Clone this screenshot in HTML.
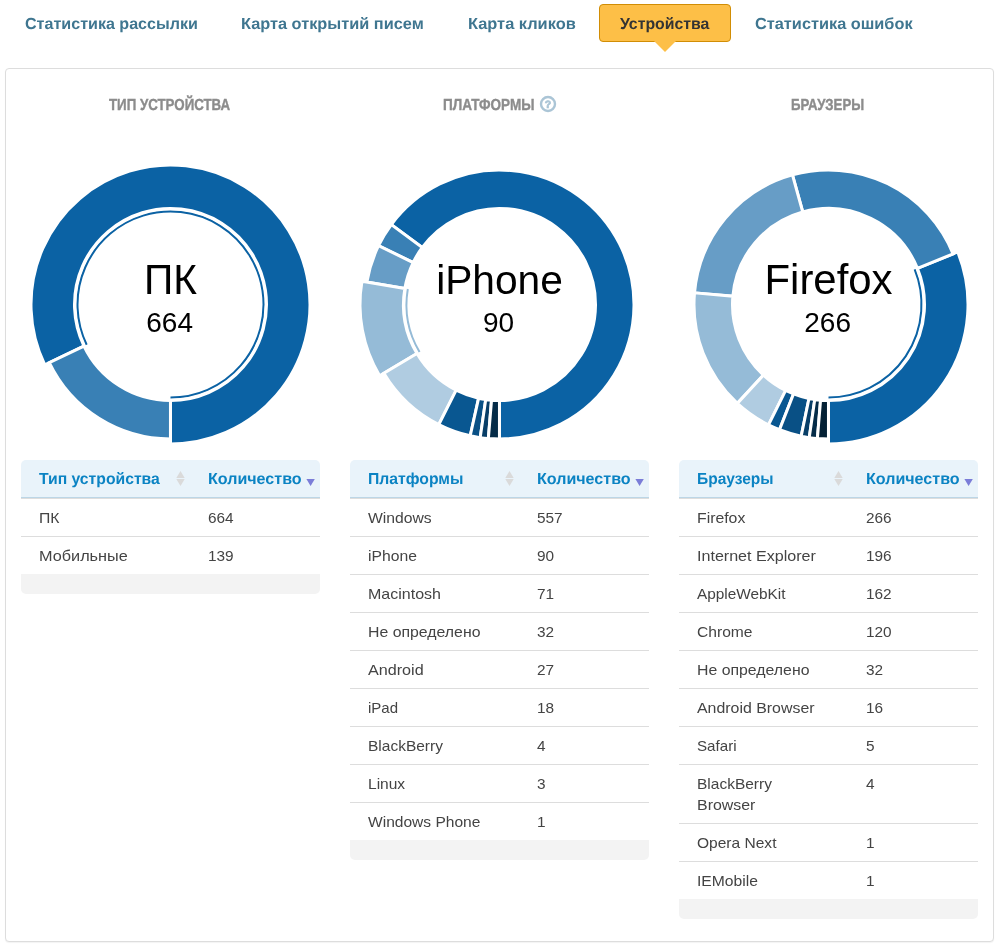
<!DOCTYPE html>
<html lang="ru">
<head>
<meta charset="utf-8">
<title>Устройства</title>
<style>
html,body{margin:0;padding:0;background:#fff;}
body{width:1004px;height:948px;position:relative;overflow:hidden;font-family:"Liberation Sans",sans-serif;color:#444;font-size:15px;line-height:21px;}
ul.tabs{list-style:none;margin:0;padding:0;position:absolute;left:0;top:0;width:1004px;height:60px;}
ul.tabs li{position:absolute;top:4px;height:36px;line-height:36px;padding:0 20px;border:1px solid transparent;border-radius:4px;font-size:16px;font-weight:700;color:#3f7690;text-rendering:geometricPrecision;white-space:nowrap;}
ul.tabs li a{color:inherit;text-decoration:none;position:relative;top:2px;display:inline-block;transform-origin:0 50%;}
ul.tabs li.active{background:#fdbf47;border-color:#d18d05;color:#333;}
ul.tabs li.active:after{content:"";position:absolute;left:50%;top:100%;margin-left:-11px;margin-top:0px;border:11px solid transparent;border-top-color:#fdbf47;border-bottom-width:0;}
.panel{position:absolute;left:5px;top:68px;width:987px;height:872px;border:1px solid #ddd;border-radius:4px;box-shadow:0 1px 1px rgba(0,0,0,.05);background:#fff;}
.col{position:absolute;top:0;width:299px;}
.col1{left:15px}.col2{left:344px}.col3{left:673px}
h3.ttl{position:absolute;left:0;top:25px;width:299px;margin:0;height:24px;line-height:24px;font-size:16px;font-weight:700;color:#8c8c8c;white-space:nowrap;-webkit-text-stroke:0.4px #8c8c8c;text-rendering:geometricPrecision;}
h3.ttl .tt{position:absolute;top:0;display:block;transform-origin:0 50%;}
h3.ttl .help{position:absolute;left:189px;top:1px;}
svg.donut{position:absolute;left:0;top:85px;}
svg.donut text{font-family:"Liberation Sans",sans-serif;fill:#000;}
.tbl{position:absolute;left:0;top:391px;width:299px;}
table.grid{width:299px;border-collapse:separate;border-spacing:0;table-layout:fixed;}
table.grid th{height:37px;padding:0 0 0 18px;background:#e9f3fa;border-bottom:1px solid #bcd6e6;text-align:left;font-size:16px;font-weight:700;color:#0b83c3;text-rendering:geometricPrecision;position:relative;white-space:nowrap;}
table.grid th.c1{width:151px;border-top-left-radius:5px;}
table.grid th.c2{width:112px;border-top-right-radius:5px;}
table.grid td{padding:8px 0 8px 18px;border-top:1px solid #ddd;vertical-align:top;line-height:21px;font-size:15px;color:#444;}

.h,.t,.n{display:inline-block;transform-origin:0 50%;white-space:nowrap;}
.h{position:relative;top:1px;}
.t{transform:scaleX(1.047);}
.n{transform:scaleX(1.025);}
svg.sort{position:absolute;}
svg.sort.both{left:155px;top:11px;fill:#dadada;}
svg.sort.desc{left:116px;top:19px;fill:#7b7dd8;}
.tfoot{width:299px;height:20px;background:#f3f3f3;border-radius:0 0 5px 5px;}

</style>
</head>
<body>
<ul class="tabs">
<li style="left:3.5px"><a style="transform:scaleX(1.005)">Статистика рассылки</a></li>
<li style="left:219.5px"><a style="transform:scaleX(1.02)">Карта открытий писем</a></li>
<li style="left:446.5px"><a style="transform:scaleX(1.024)">Карта кликов</a></li>
<li class="active" style="left:599px"><a style="transform:scaleX(0.99)">Устройства</a></li>
<li style="left:733.5px"><a style="transform:scaleX(1.02)">Статистика ошибок</a></li>
</ul>
<div class="panel">
<div class="col col1">
<h3 class="ttl"><span class="tt" style="left:87.8px;transform:scaleX(0.831)">ТИП УСТРОЙСТВА</span></h3>
<svg class="donut" width="299" height="300" viewBox="0 0 299 300">
<path d="M149.5,243.5A93,93,0,1,0,65.67,190.76" fill="none" stroke="#0B62A4" stroke-width="2"/>
<path d="M149.5,246.5A96,96,0,1,0,62.96,192.06L23.75,210.9A139.5,139.5,0,1,1,149.5,290Z" fill="#0B62A4" stroke="#fff" stroke-width="3"/>
<path d="M62.96,192.06A96,96,0,0,0,149.47,246.5L149.46,285A134.5,134.5,0,0,1,28.26,208.73Z" fill="#3980B5" stroke="#fff" stroke-width="3"/>
<text x="149.5" y="139.8" text-anchor="middle" font-size="40.7" class="l1" transform="translate(0,139.8) scale(1,1.05) translate(0,-139.8)">ПК</text>
<text x="148.6" y="177.8" text-anchor="middle" font-size="28" class="l2">664</text>
</svg>
<div class="tbl"><table class="grid" cellspacing="0" cellpadding="0">
<thead><tr><th class="c1"><span class="h" style="transform:scaleX(0.982)">Тип устройства</span><svg class="sort both" width="9" height="15" viewBox="0 0 9 15"><path d="M0.3 7 L4.5 0 L8.7 7Z"/><path d="M0.3 8 L4.5 15 L8.7 8Z"/></svg></th><th class="c2"><span class="h" style="transform:scaleX(1.004)">Количество</span><svg class="sort desc" width="9" height="7" viewBox="0 0 9 7"><path d="M0.4 0 L8.8 0 L4.6 7Z"/></svg></th></tr></thead>
<tbody>
<tr class="first"><td><span class="t" style="transform:scaleX(1.05)">ПК</span></td><td><span class="n">664</span></td></tr>
<tr><td><span class="t" style="transform:scaleX(1.083)">Мобильные</span></td><td><span class="n">139</span></td></tr>
</tbody>
</table>
<div class="tfoot"></div></div>
</div><div class="col col2">
<h3 class="ttl"><span class="tt" style="left:93.3px;transform:scaleX(0.845)">ПЛАТФОРМЫ</span><svg class="help" width="18" height="18" viewBox="0 0 18 18"><circle cx="9" cy="9" r="7" fill="none" stroke="#abc5d6" stroke-width="2.4"/><text x="9" y="12.8" text-anchor="middle" font-size="10.5" font-weight="700" fill="#abc5d6" stroke="#abc5d6" stroke-width="0.7" font-family="Liberation Sans, sans-serif">?</text></svg></h3>
<svg class="donut" width="299" height="300" viewBox="0 0 299 300">
<path d="M149.5,246.5A96,96,0,1,0,72.28,93.47L41.31,70.59A134.5,134.5,0,1,1,149.5,285Z" fill="#0B62A4" stroke="#fff" stroke-width="3"/>
<path d="M72.28,93.47A96,96,0,0,0,63.16,108.54L28.53,91.71A134.5,134.5,0,0,1,41.31,70.59Z" fill="#3980B5" stroke="#fff" stroke-width="3"/>
<path d="M63.16,108.54A96,96,0,0,0,54.84,134.49L16.88,128.07A134.5,134.5,0,0,1,28.53,91.71Z" fill="#679DC6" stroke="#fff" stroke-width="3"/>
<path d="M57.8,134.99A93,93,0,0,0,69.55,198.01" fill="none" stroke="#95BBD7" stroke-width="2"/>
<path d="M54.84,134.49A96,96,0,0,0,66.97,199.54L29.58,221.76A139.5,139.5,0,0,1,11.95,127.24Z" fill="#95BBD7" stroke="#fff" stroke-width="3"/>
<path d="M66.97,199.54A96,96,0,0,0,106.18,236.17L88.81,270.53A134.5,134.5,0,0,1,33.87,219.21Z" fill="#B0CCE1" stroke="#fff" stroke-width="3"/>
<path d="M106.18,236.17A96,96,0,0,0,128.61,244.2L120.23,281.78A134.5,134.5,0,0,1,88.81,270.53Z" fill="#095791" stroke="#fff" stroke-width="3"/>
<path d="M128.61,244.2A96,96,0,0,0,135.73,245.51L130.21,283.61A134.5,134.5,0,0,1,120.23,281.78Z" fill="#095085" stroke="#fff" stroke-width="3"/>
<path d="M135.73,245.51A96,96,0,0,0,141.54,246.17L138.35,284.54A134.5,134.5,0,0,1,130.21,283.61Z" fill="#083E67" stroke="#fff" stroke-width="3"/>
<path d="M141.54,246.17A96,96,0,0,0,149.47,246.5L149.46,285A134.5,134.5,0,0,1,138.35,284.54Z" fill="#052C48" stroke="#fff" stroke-width="3"/>
<text x="149.5" y="139.8" text-anchor="middle" font-size="40.7" class="l1">iPhone</text>
<text x="148.6" y="177.8" text-anchor="middle" font-size="28" class="l2">90</text>
</svg>
<div class="tbl"><table class="grid" cellspacing="0" cellpadding="0">
<thead><tr><th class="c1"><span class="h" style="transform:scaleX(0.983)">Платформы</span><svg class="sort both" width="9" height="15" viewBox="0 0 9 15"><path d="M0.3 7 L4.5 0 L8.7 7Z"/><path d="M0.3 8 L4.5 15 L8.7 8Z"/></svg></th><th class="c2"><span class="h" style="transform:scaleX(1.004)">Количество</span><svg class="sort desc" width="9" height="7" viewBox="0 0 9 7"><path d="M0.4 0 L8.8 0 L4.6 7Z"/></svg></th></tr></thead>
<tbody>
<tr class="first"><td><span class="t" style="transform:scaleX(1.047)">Windows</span></td><td><span class="n">557</span></td></tr>
<tr><td><span class="t" style="transform:scaleX(1.047)">iPhone</span></td><td><span class="n">90</span></td></tr>
<tr><td><span class="t" style="transform:scaleX(1.067)">Macintosh</span></td><td><span class="n">71</span></td></tr>
<tr><td><span class="t" style="transform:scaleX(1.056)">Не определено</span></td><td><span class="n">32</span></td></tr>
<tr><td><span class="t" style="transform:scaleX(1.077)">Android</span></td><td><span class="n">27</span></td></tr>
<tr><td><span class="t" style="transform:scaleX(1.0)">iPad</span></td><td><span class="n">18</span></td></tr>
<tr><td><span class="t" style="transform:scaleX(1.033)">BlackBerry</span></td><td><span class="n">4</span></td></tr>
<tr><td><span class="t" style="transform:scaleX(1.035)">Linux</span></td><td><span class="n">3</span></td></tr>
<tr><td><span class="t" style="transform:scaleX(1.037)">Windows Phone</span></td><td><span class="n">1</span></td></tr>
</tbody>
</table>
<div class="tfoot"></div></div>
</div><div class="col col3">
<h3 class="ttl"><span class="tt" style="left:112.1px;transform:scaleX(0.824)">БРАУЗЕРЫ</span></h3>
<svg class="donut" width="299" height="300" viewBox="0 0 299 300">
<path d="M149.5,243.5A93,93,0,0,0,235.65,115.48" fill="none" stroke="#0B62A4" stroke-width="2"/>
<path d="M149.5,246.5A96,96,0,0,0,238.43,114.35L278.73,97.96A139.5,139.5,0,0,1,149.5,290Z" fill="#0B62A4" stroke="#fff" stroke-width="3"/>
<path d="M238.43,114.35A96,96,0,0,0,123.76,58.01L113.44,20.92A134.5,134.5,0,0,1,274.1,99.85Z" fill="#3980B5" stroke="#fff" stroke-width="3"/>
<path d="M123.76,58.01A96,96,0,0,0,53.86,142.2L15.5,138.87A134.5,134.5,0,0,1,113.44,20.92Z" fill="#679DC6" stroke="#fff" stroke-width="3"/>
<path d="M53.86,142.2A96,96,0,0,0,84.41,221.07L58.31,249.37A134.5,134.5,0,0,1,15.5,138.87Z" fill="#95BBD7" stroke="#fff" stroke-width="3"/>
<path d="M84.41,221.07A96,96,0,0,0,106.68,236.42L89.51,270.88A134.5,134.5,0,0,1,58.31,249.37Z" fill="#B0CCE1" stroke="#fff" stroke-width="3"/>
<path d="M106.68,236.42A96,96,0,0,0,114.54,239.91L100.52,275.76A134.5,134.5,0,0,1,89.51,270.88Z" fill="#095791" stroke="#fff" stroke-width="3"/>
<path d="M114.54,239.91A96,96,0,0,0,130,244.5L122.18,282.2A134.5,134.5,0,0,1,100.52,275.76Z" fill="#095085" stroke="#fff" stroke-width="3"/>
<path d="M130,244.5A96,96,0,0,0,135.76,245.51L130.25,283.62A134.5,134.5,0,0,1,122.18,282.2Z" fill="#083E67" stroke="#fff" stroke-width="3"/>
<path d="M135.76,245.51A96,96,0,0,0,141.57,246.17L138.39,284.54A134.5,134.5,0,0,1,130.25,283.62Z" fill="#052C48" stroke="#fff" stroke-width="3"/>
<path d="M141.57,246.17A96,96,0,0,0,149.47,246.5L149.46,285A134.5,134.5,0,0,1,138.39,284.54Z" fill="#042135" stroke="#fff" stroke-width="3"/>
<text x="149.5" y="139.8" text-anchor="middle" font-size="41.9" class="l1">Firefox</text>
<text x="148.6" y="177.8" text-anchor="middle" font-size="28" class="l2">266</text>
</svg>
<div class="tbl"><table class="grid" cellspacing="0" cellpadding="0">
<thead><tr><th class="c1"><span class="h" style="transform:scaleX(0.97)">Браузеры</span><svg class="sort both" width="9" height="15" viewBox="0 0 9 15"><path d="M0.3 7 L4.5 0 L8.7 7Z"/><path d="M0.3 8 L4.5 15 L8.7 8Z"/></svg></th><th class="c2"><span class="h" style="transform:scaleX(1.004)">Количество</span><svg class="sort desc" width="9" height="7" viewBox="0 0 9 7"><path d="M0.4 0 L8.8 0 L4.6 7Z"/></svg></th></tr></thead>
<tbody>
<tr class="first"><td><span class="t" style="transform:scaleX(1.054)">Firefox</span></td><td><span class="n">266</span></td></tr>
<tr><td><span class="t" style="transform:scaleX(1.072)">Internet Explorer</span></td><td><span class="n">196</span></td></tr>
<tr><td><span class="t" style="transform:scaleX(1.024)">AppleWebKit</span></td><td><span class="n">162</span></td></tr>
<tr><td><span class="t" style="transform:scaleX(1.041)">Chrome</span></td><td><span class="n">120</span></td></tr>
<tr><td><span class="t" style="transform:scaleX(1.056)">Не определено</span></td><td><span class="n">32</span></td></tr>
<tr><td><span class="t" style="transform:scaleX(1.06)">Android Browser</span></td><td><span class="n">16</span></td></tr>
<tr><td><span class="t" style="transform:scaleX(1.009)">Safari</span></td><td><span class="n">5</span></td></tr>
<tr><td><span class="t" style="transform:scaleX(1.033)">BlackBerry</span><br><span class="t" style="transform:scaleX(1.062)">Browser</span></td><td><span class="n">4</span></td></tr>
<tr><td><span class="t" style="transform:scaleX(1.036)">Opera Next</span></td><td><span class="n">1</span></td></tr>
<tr><td><span class="t" style="transform:scaleX(1.045)">IEMobile</span></td><td><span class="n">1</span></td></tr>
</tbody>
</table>
<div class="tfoot"></div></div>
</div>
</div>
</body>
</html>
